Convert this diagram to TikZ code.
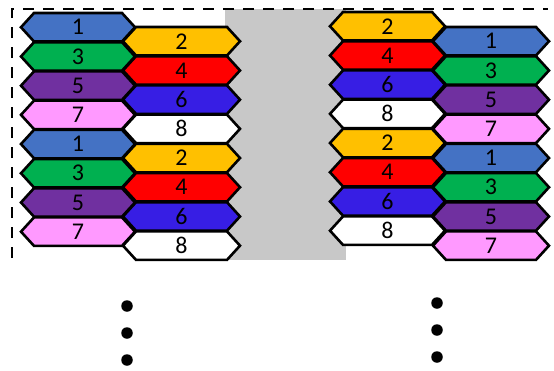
\documentclass[tikz,border=0pt]{standalone}
\usepackage{fontspec}
\setmainfont{Carlito}
\definecolor{c1}{RGB}{68,114,196}
\definecolor{c2}{RGB}{255,192,0}
\definecolor{c3}{RGB}{0,176,80}
\definecolor{c4}{RGB}{255,0,0}
\definecolor{c5}{RGB}{112,48,160}
\definecolor{c6}{RGB}{55,30,228}
\definecolor{c7}{RGB}{255,153,255}
\definecolor{c8}{RGB}{255,255,255}
\definecolor{graybar}{RGB}{200,200,200}
\tikzset{
  hexline/.style={draw=black, line width=2.6pt, line join=miter},
  hexlabel/.style={font=\fontsize{24}{24}\selectfont, inner sep=0pt, text=black},
  frameline/.style={line width=2.3pt, dash pattern=on 11pt off 9pt},
  dotmark/.style={circle, fill=black, minimum size=11.5pt, inner sep=0pt},
}
\newcommand\hexa[6]{%
  \draw[hexline, fill=#4] (#1,#2+14.25) -- (#1+13,#2) -- (#1+#3-13,#2) -- (#1+#3,#2+14.25)
    -- (#1+#3-13,#2+28.5) -- (#1+13,#2+28.5) -- cycle;
  \node[hexlabel] (#6) at (#1+#3/2,#2+14.25) {#5};}
\begin{document}
\begin{tikzpicture}[x=1pt,y=-1pt]
\useasboundingbox (0,0) rectangle (554,370);
\fill[graybar] (225,9) rectangle (346,260);
\draw[frameline] (12,258) -- (12,9) -- (548,9);
% left column
\foreach \k in {0,...,7}{
  \pgfmathtruncatemacro\lab{2*mod(\k,4)+1}
  \hexa{21}{13+29.2*\k}{114}{c\lab}{\lab}{A\k}
}
\foreach \k in {0,...,7}{
  \pgfmathtruncatemacro\lab{2*mod(\k,4)+2}
  \hexa{123}{27+29.2*\k}{117}{c\lab}{\lab}{B\k}
}
% right column
\foreach \k in {0,...,7}{
  \pgfmathtruncatemacro\lab{2*mod(\k,4)+2}
  \hexa{330}{12+29.2*\k}{115}{c\lab}{\lab}{C\k}
}
\foreach \k in {0,...,7}{
  \pgfmathtruncatemacro\lab{2*mod(\k,4)+1}
  \hexa{433}{27+29.2*\k}{116}{c\lab}{\lab}{D\k}
}
% dots
\node[dotmark] (l1) at (127,306) {};
\node[dotmark] (l2) at (127,333) {};
\node[dotmark] (l3) at (127,360) {};
\node[dotmark] (r1) at (437,303) {};
\node[dotmark] (r2) at (437,330) {};
\node[dotmark] (r3) at (437,357) {};
\end{tikzpicture}
\end{document}
